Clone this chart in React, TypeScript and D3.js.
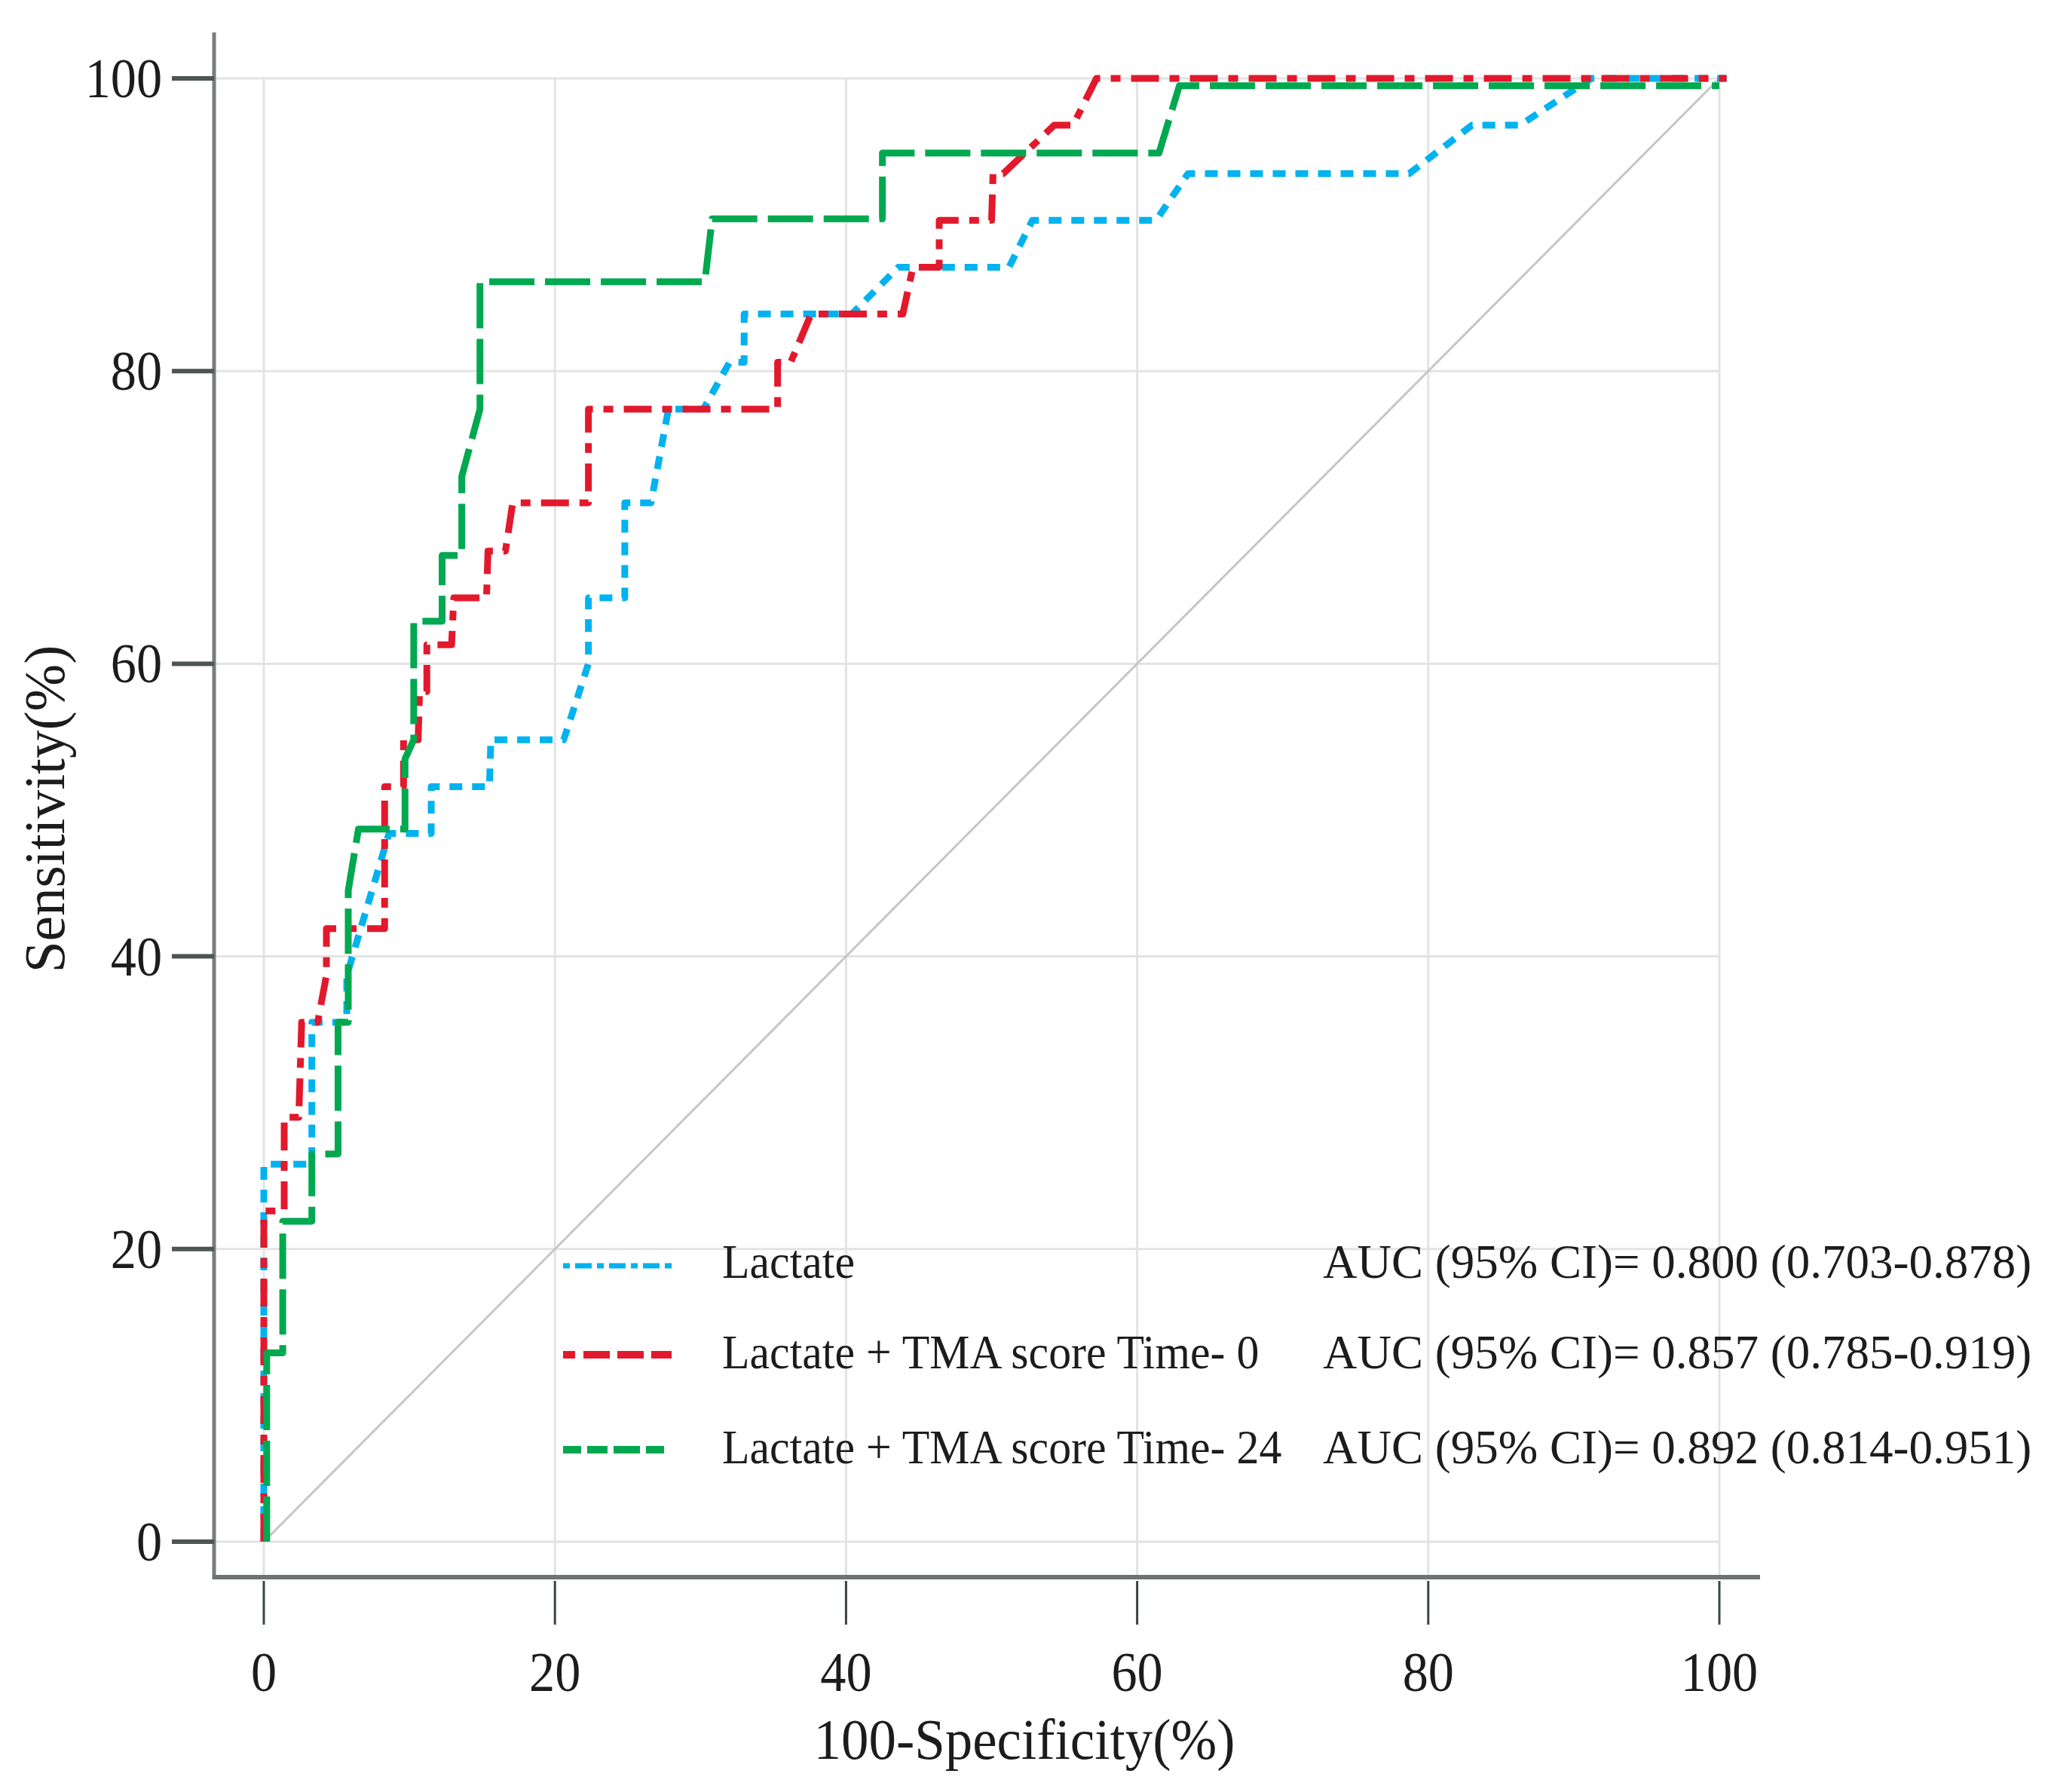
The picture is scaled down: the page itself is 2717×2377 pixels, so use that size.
import React from 'react';
import * as d3 from 'd3';

// ROC points: [100-specificity, sensitivity]
const lactate: [number, number][] = [
  [0, 0], [0, 25.8], [3.3, 25.8], [3.3, 35.5], [5.7, 35.5], [5.7, 38.7], [8.6, 48.4],
  [11.5, 48.4], [11.5, 51.6], [15.5, 51.6], [15.6, 54.8], [20.6, 54.8], [22.3, 60],
  [22.3, 64.5], [24.8, 64.5], [24.8, 71], [26.6, 71], [27.8, 77.4], [30.2, 77.4],
  [32, 80.6], [33, 80.6], [33, 83.9], [40.4, 83.9], [43.6, 87.1], [51.2, 87.1],
  [52.8, 90.3], [61.3, 90.3], [63.5, 93.5], [78.7, 93.5], [83, 96.8], [86.3, 96.8],
  [91.2, 100], [100.5, 100],
];

const time0: [number, number][] = [
  [0, 0], [0, 22.6], [1.4, 22.6], [1.4, 29], [2.4, 29], [2.6, 35.5], [3.7, 35.5],
  [4.3, 38.7], [4.3, 41.9], [8.3, 41.9], [8.3, 51.6], [9.6, 51.6], [9.6, 54.8],
  [10.6, 54.8], [10.7, 58.1], [11.2, 58.1], [11.2, 61.3], [12.9, 61.3], [13.05, 64.5],
  [15.3, 64.5], [15.4, 67.7], [16.6, 67.7], [17.1, 71], [22.3, 71], [22.3, 77.4],
  [35.3, 77.4], [35.3, 80.6], [36.2, 80.6], [37.6, 83.9], [43.9, 83.9], [44.6, 87.1],
  [46.4, 87.1], [46.4, 90.3], [50, 90.3], [50.1, 93.5], [50.8, 93.5], [54.3, 96.8],
  [55.6, 96.8], [57.2, 100], [100.5, 100],
];

const time24: [number, number][] = [
  [0.2, 0], [0.2, 12.9], [1.3, 12.9], [1.3, 21.9], [3.3, 21.9], [3.3, 26.5], [5.1, 26.5],
  [5.1, 35.5], [5.8, 35.5], [5.8, 44.5], [6.5, 48.7], [9.7, 48.7], [9.7, 53.5],
  [10.3, 54.8], [10.3, 62.9], [12.25, 62.9], [12.25, 67.4], [13.6, 67.4], [13.6, 72.8],
  [14.85, 77.4], [14.85, 86.1], [30.3, 86.1], [30.8, 90.4], [42.5, 90.4], [42.5, 94.9],
  [61.5, 94.9], [62.9, 99.5], [100, 99.5],
];

const seriesNames = ['Lactate', 'Lactate + TMA score Time- 0', 'Lactate + TMA score Time- 24'];
const aucLabels = [
  'AUC (95% CI)= 0.800 (0.703-0.878)',
  'AUC (95% CI)= 0.857 (0.785-0.919)',
  'AUC (95% CI)= 0.892 (0.814-0.951)',
];
const tickValues = [0, 20, 40, 60, 80, 100];

const W = 2717;
const H = 2377;
const FONT = '"Liberation Serif", "Times New Roman", serif';
const INK = '#1c1c1c';

const series = [
  { name: seriesNames[0], auc: aucLabels[0], data: lactate, color: '#00b2ef', dash: '17 13', legendDash: '9 7 22 7', legendW: 7 },
  { name: seriesNames[1], auc: aucLabels[1], data: time0, color: '#e2192c', dash: '37 14 13 14', legendDash: '16 11 35 10 35 10 28', legendW: 10 },
  { name: seriesNames[2], auc: aucLabels[2], data: time24, color: '#00a84f', dash: '60 14', legendDash: '24 8 27 8 35 8 24', legendW: 10 },
];

const App: React.FC = () => {
  const x = d3.scaleLinear().domain([0, 100]).range([350, 2281]);
  const y = d3.scaleLinear().domain([0, 100]).range([2045, 104]);

  const line = d3.line<[number, number]>()
    .x(d => x(d[0]))
    .y(d => y(d[1]));

  const axisLeft = 284;
  const axisBottom = 2092;

  const legendY = [1679, 1797, 1923];
  const textY = [1695, 1815, 1941];

  return (
    <svg width={W} height={H} viewBox={`0 0 ${W} ${H}`}
      style={{ position: 'absolute', left: 0, top: 0, background: '#fff' }}>
      <rect width={W} height={H} fill="#fff" />

      {/* grid */}
      <g stroke="#e3e3e3" strokeWidth={3}>
        {tickValues.map(t => (
          <line key={'gx' + t} x1={x(t)} x2={x(t)} y1={y(100)} y2={axisBottom} />
        ))}
        {tickValues.map(t => (
          <line key={'gy' + t} x1={axisLeft} x2={x(100)} y1={y(t)} y2={y(t)} />
        ))}
      </g>

      {/* reference diagonal */}
      <line x1={x(0)} y1={y(0)} x2={x(100)} y2={y(100)} stroke="#c6c6c6" strokeWidth={3} />

      {/* frame */}
      <line x1={axisLeft} x2={axisLeft} y1={43} y2={axisBottom + 3} stroke="#7a7d7d" strokeWidth={5} />
      <line x1={axisLeft - 2} x2={2335} y1={axisBottom} y2={axisBottom} stroke="#6f7373" strokeWidth={6} />

      {/* ticks */}
      <g stroke="#4d5555" strokeWidth={6}>
        {tickValues.map(t => (
          <line key={'ty' + t} x1={228} x2={axisLeft} y1={y(t)} y2={y(t)} />
        ))}
      </g>
      <g stroke="#3c4444" strokeWidth={3}>
        {tickValues.map(t => (
          <line key={'tx' + t} x1={x(t)} x2={x(t)} y1={2097} y2={2155} />
        ))}
      </g>

      {/* tick labels */}
      <g fontFamily={FONT} fontSize={75} fill={INK}>
        {tickValues.map(t => (
          <text key={'ly' + t} textAnchor="end"
            transform={`translate(215, ${y(t) + 25}) scale(0.91, 1)`}>{t}</text>
        ))}
        {tickValues.map(t => (
          <text key={'lx' + t} textAnchor="middle"
            transform={`translate(${x(t)}, 2243) scale(0.91, 1)`}>{t}</text>
        ))}
      </g>

      {/* axis titles */}
      <text fontFamily={FONT} fontSize={76} fill={INK} textAnchor="middle"
        transform="translate(1359, 2333) scale(0.96, 1)">100-Specificity(%)</text>
      <text fontFamily={FONT} fontSize={76} fill={INK} textAnchor="middle"
        transform="translate(85, 1073) rotate(-90) scale(0.99, 1)">Sensitivity(%)</text>

      {/* curves */}
      {series.map(s => (
        <path key={s.name} d={line(s.data) || ''} fill="none" stroke={s.color}
          strokeWidth={9} strokeDasharray={s.dash} strokeLinejoin="round" />
      ))}

      {/* legend */}
      {series.map((s, i) => (
        <g key={'lg' + i}>
          <line x1={747} x2={891} y1={legendY[i]} y2={legendY[i]} stroke={s.color}
            strokeWidth={s.legendW} strokeDasharray={s.legendDash} />
          <text fontFamily={FONT} fontSize={63} fill={INK}
            transform={`translate(958, ${textY[i]}) scale(0.95, 1)`}>{s.name}</text>
          <text fontFamily={FONT} fontSize={63} fill={INK}
            transform={`translate(1755, ${textY[i]})`}>{s.auc}</text>
        </g>
      ))}
    </svg>
  );
};

export default App;
